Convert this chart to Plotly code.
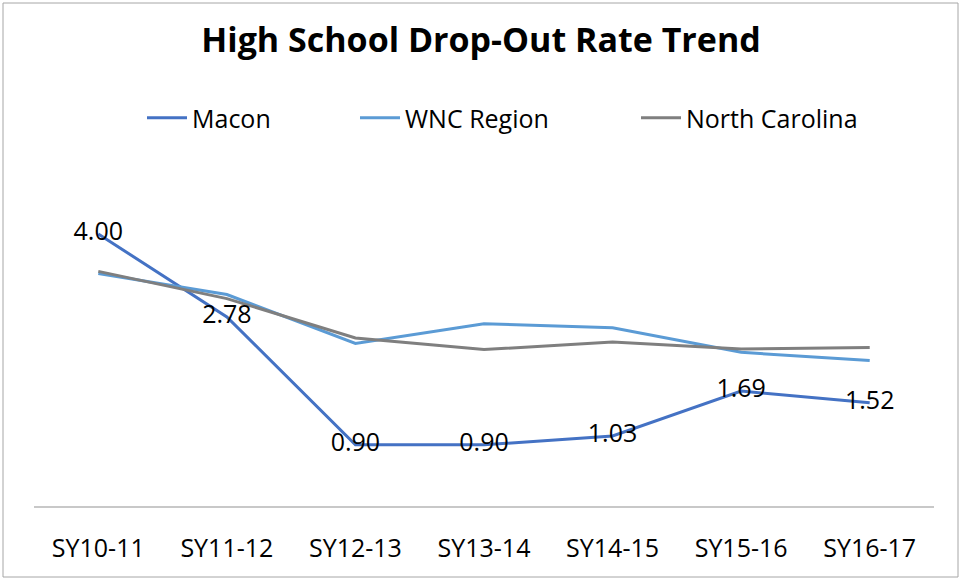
import plotly.graph_objects as go

categories = ["SY10-11", "SY11-12", "SY12-13", "SY13-14", "SY14-15", "SY15-16", "SY16-17"]
macon = [4.00, 2.78, 0.90, 0.90, 1.03, 1.69, 1.52]
wnc_region = [3.42, 3.11, 2.39, 2.68, 2.62, 2.26, 2.14]
north_carolina = [3.45, 3.05, 2.47, 2.30, 2.41, 2.31, 2.33]
macon_labels = [f"{v:.2f}" for v in macon]

FONT = "Segoe UI, Open Sans, Noto Sans, sans-serif"

fig = go.Figure()
fig.add_trace(go.Scatter(x=categories, y=macon, name="Macon", mode="lines",
                         line=dict(color="#4472C4", width=3), legendwidth=158))
fig.add_trace(go.Scatter(x=categories, y=wnc_region, name="WNC Region", mode="lines",
                         line=dict(color="#5B9BD5", width=3), legendwidth=226))
fig.add_trace(go.Scatter(x=categories, y=north_carolina, name="North Carolina", mode="lines",
                         line=dict(color="#7F7F7F", width=3)))
fig.add_trace(go.Scatter(x=categories, y=macon, mode="text", text=macon_labels,
                         textposition="middle center", showlegend=False, hoverinfo="skip",
                         textfont=dict(family=FONT, size=25, color="#000000")))

L, R, T, B = 34, 28, 166, 74
W, H = 962, 580
pw, ph = W - L - R, H - T - B

def px(xp):
    return (xp - L) / pw

def py(yp):
    return (H - B - yp) / ph

fig.update_layout(
    width=W, height=H,
    margin=dict(l=L, r=R, t=T, b=B),
    paper_bgcolor="white", plot_bgcolor="white",
    font=dict(family=FONT, size=25, color="#000000"),
    title=dict(text="<b>High School Drop-Out Rate Trend</b>", x=0.5, xanchor="center",
               y=1 - 40 / H, yanchor="middle",
               font=dict(family=FONT, size=34, color="#000000")),
    legend=dict(orientation="h", x=px(142), xanchor="left", y=py(118), yanchor="middle",
                font=dict(family=FONT, size=25, color="#000000"),
                itemwidth=40, bgcolor="rgba(0,0,0,0)"),
    xaxis=dict(type="category", range=[-0.5, 6.5], showgrid=False, showline=True,
               linecolor="#C8C8C8", linewidth=1.5, ticks="", zeroline=False,
               tickfont=dict(family=FONT, size=25, color="#000000"),
               ticklabelstandoff=19, fixedrange=True),
    yaxis=dict(range=[0, 5], visible=False, showgrid=False, zeroline=False, fixedrange=True),
    shapes=[dict(type="rect", xref="paper", yref="paper",
                 x0=px(3), x1=px(958), y0=py(577), y1=py(3),
                 line=dict(color="#A6A6A6", width=1), fillcolor="rgba(0,0,0,0)", layer="below")],
    showlegend=True,
)

fig.write_html("out.html", config={"displayModeBar": False},
               post_script="document.body.style.margin='0px';document.body.style.overflow='hidden';")
